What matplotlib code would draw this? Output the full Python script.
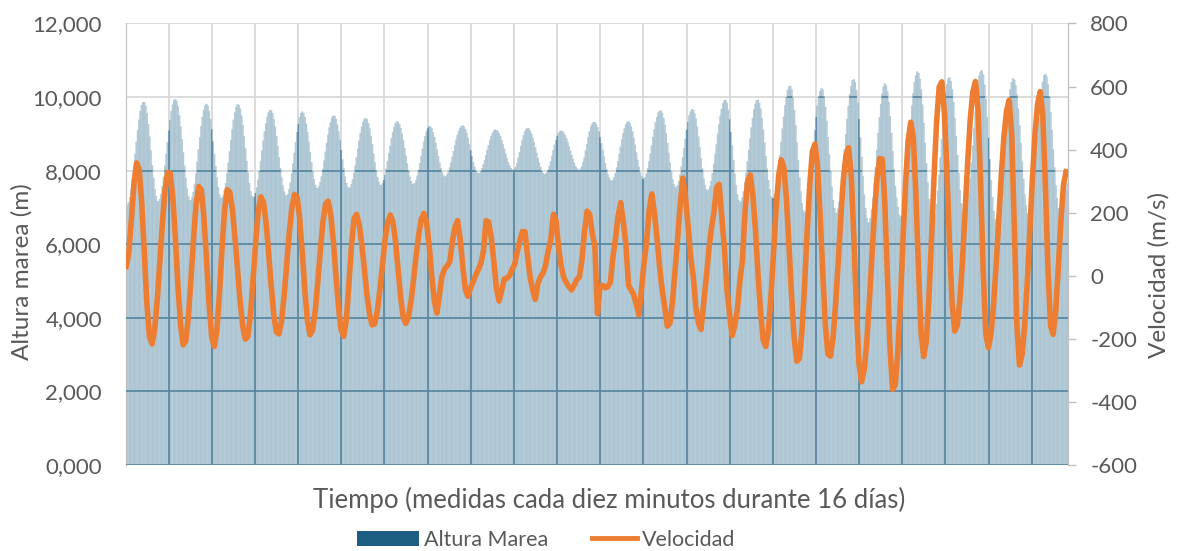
"""Altura de marea (barras) y velocidad de corriente (línea) durante 16 días."""

import matplotlib

matplotlib.use("Agg")
import matplotlib.pyplot as plt
import numpy as np
from matplotlib.legend_handler import HandlerLine2D
from matplotlib.lines import Line2D
from matplotlib.patches import Patch
from matplotlib.path import Path
from matplotlib.ticker import FuncFormatter, MultipleLocator

# --- altura de marea (m), una lectura cada media hora ---
tide_m = [
    7.08, 7.06, 7.13, 7.28, 7.51, 7.78, 8.10, 8.44, 8.78, 9.10, 9.38, 9.62, 9.78, 9.86, 9.86, 9.75, 9.55, 9.26, 8.92, 8.54, 8.15, 7.80, 7.50, 7.30,
    7.17, 7.15, 7.22, 7.36, 7.57, 7.83, 8.13, 8.45, 8.77, 9.09, 9.37, 9.62, 9.79, 9.91, 9.94, 9.88, 9.74, 9.50, 9.19, 8.85, 8.49, 8.13, 7.79, 7.51,
    7.30, 7.20, 7.19, 7.27, 7.42, 7.64, 7.92, 8.24, 8.57, 8.90, 9.21, 9.46, 9.65, 9.77, 9.81, 9.76, 9.62, 9.40, 9.12, 8.79, 8.45, 8.12, 7.81, 7.55,
    7.35, 7.26, 7.25, 7.32, 7.46, 7.66, 7.92, 8.21, 8.52, 8.83, 9.12, 9.38, 9.58, 9.73, 9.80, 9.78, 9.68, 9.49, 9.24, 8.93, 8.60, 8.26, 7.94, 7.66,
    7.44, 7.31, 7.26, 7.29, 7.39, 7.54, 7.75, 7.99, 8.26, 8.54, 8.81, 9.06, 9.28, 9.46, 9.58, 9.64, 9.63, 9.55, 9.40, 9.19, 8.94, 8.66, 8.36, 8.07,
    7.81, 7.59, 7.43, 7.33, 7.31, 7.36, 7.49, 7.68, 7.92, 8.19, 8.48, 8.77, 9.05, 9.27, 9.45, 9.56, 9.60, 9.56, 9.45, 9.27, 9.04, 8.78, 8.50, 8.23,
    7.98, 7.77, 7.61, 7.53, 7.52, 7.58, 7.69, 7.84, 8.04, 8.27, 8.51, 8.75, 8.97, 9.17, 9.32, 9.44, 9.49, 9.48, 9.40, 9.25, 9.06, 8.82, 8.56, 8.30,
    8.05, 7.83, 7.66, 7.56, 7.52, 7.54, 7.63, 7.76, 7.93, 8.13, 8.36, 8.59, 8.81, 9.02, 9.19, 9.32, 9.39, 9.42, 9.39, 9.29, 9.14, 8.94, 8.71, 8.46,
    8.22, 8.00, 7.82, 7.69, 7.61, 7.60, 7.65, 7.74, 7.88, 8.05, 8.25, 8.46, 8.67, 8.87, 9.04, 9.18, 9.28, 9.33, 9.32, 9.26, 9.15, 9.00, 8.82, 8.61,
    8.40, 8.19, 8.00, 7.83, 7.71, 7.64, 7.63, 7.66, 7.74, 7.86, 8.02, 8.20, 8.40, 8.59, 8.78, 8.93, 9.06, 9.15, 9.20, 9.19, 9.14, 9.04, 8.91, 8.75,
    8.57, 8.39, 8.21, 8.07, 7.95, 7.87, 7.83, 7.84, 7.89, 7.97, 8.08, 8.22, 8.37, 8.53, 8.68, 8.84, 8.97, 9.08, 9.16, 9.21, 9.22, 9.19, 9.12, 9.02,
    8.88, 8.72, 8.55, 8.39, 8.23, 8.10, 8.00, 7.94, 7.92, 7.93, 7.98, 8.06, 8.16, 8.28, 8.42, 8.56, 8.69, 8.82, 8.93, 9.02, 9.08, 9.11, 9.10, 9.07,
    9.01, 8.93, 8.82, 8.71, 8.59, 8.46, 8.34, 8.23, 8.14, 8.07, 8.02, 8.01, 8.03, 8.10, 8.20, 8.35, 8.50, 8.67, 8.82, 8.96, 9.06, 9.13, 9.15, 9.14,
    9.08, 9.00, 8.89, 8.77, 8.63, 8.48, 8.34, 8.21, 8.09, 7.99, 7.93, 7.90, 7.91, 7.95, 8.02, 8.12, 8.25, 8.40, 8.55, 8.70, 8.83, 8.94, 9.02, 9.07,
    9.08, 9.07, 9.02, 8.96, 8.87, 8.77, 8.65, 8.54, 8.42, 8.31, 8.21, 8.12, 8.06, 8.02, 8.01, 8.05, 8.11, 8.23, 8.37, 8.55, 8.72, 8.90, 9.06, 9.19,
    9.27, 9.32, 9.31, 9.27, 9.18, 9.06, 8.90, 8.74, 8.56, 8.38, 8.20, 8.04, 7.90, 7.80, 7.74, 7.71, 7.74, 7.81, 7.93, 8.08, 8.25, 8.45, 8.65, 8.84,
    9.01, 9.15, 9.25, 9.32, 9.33, 9.29, 9.20, 9.06, 8.89, 8.70, 8.49, 8.29, 8.10, 7.95, 7.84, 7.78, 7.77, 7.82, 7.92, 8.07, 8.25, 8.46, 8.68, 8.91,
    9.12, 9.31, 9.45, 9.57, 9.62, 9.63, 9.56, 9.43, 9.24, 9.01, 8.75, 8.48, 8.21, 7.97, 7.77, 7.63, 7.55, 7.54, 7.60, 7.72, 7.89, 8.11, 8.35, 8.61,
    8.86, 9.11, 9.32, 9.50, 9.61, 9.67, 9.65, 9.56, 9.41, 9.19, 8.92, 8.63, 8.33, 8.05, 7.79, 7.61, 7.49, 7.45, 7.48, 7.57, 7.72, 7.93, 8.17, 8.44,
    8.71, 9.00, 9.25, 9.49, 9.67, 9.83, 9.90, 9.92, 9.84, 9.65, 9.39, 9.05, 8.68, 8.29, 7.91, 7.60, 7.35, 7.20, 7.13, 7.16, 7.27, 7.44, 7.67, 7.94,
    8.25, 8.56, 8.87, 9.17, 9.43, 9.66, 9.81, 9.91, 9.92, 9.84, 9.68, 9.42, 9.11, 8.76, 8.39, 8.05, 7.74, 7.49, 7.30, 7.24, 7.26, 7.36, 7.54, 7.78,
    8.07, 8.42, 8.77, 9.14, 9.46, 9.77, 9.99, 10.19, 10.28, 10.30, 10.20, 9.97, 9.64, 9.23, 8.77, 8.28, 7.81, 7.43, 7.11, 6.92, 6.84, 6.88, 7.03, 7.25,
    7.55, 7.91, 8.30, 8.70, 9.09, 9.46, 9.76, 10.01, 10.16, 10.23, 10.19, 10.01, 9.73, 9.35, 8.91, 8.44, 7.98, 7.56, 7.20, 6.98, 6.85, 6.85, 6.96, 7.15,
    7.43, 7.78, 8.17, 8.58, 8.99, 9.40, 9.75, 10.07, 10.29, 10.45, 10.48, 10.40, 10.19, 9.84, 9.40, 8.90, 8.37, 7.84, 7.35, 6.98, 6.71, 6.59, 6.59, 6.71,
    6.94, 7.26, 7.65, 8.09, 8.56, 9.02, 9.45, 9.81, 10.09, 10.28, 10.36, 10.31, 10.15, 9.86, 9.48, 9.02, 8.53, 8.04, 7.58, 7.26, 7.01, 6.80, 6.70, 6.77,
    6.95, 7.22, 7.57, 7.97, 8.41, 8.88, 9.33, 9.76, 10.10, 10.40, 10.58, 10.69, 10.65, 10.49, 10.20, 9.79, 9.29, 8.75, 8.20, 7.68, 7.22, 6.89, 6.66, 6.59,
    6.64, 6.81, 7.09, 7.45, 7.88, 8.36, 8.85, 9.32, 9.74, 10.09, 10.34, 10.50, 10.53, 10.43, 10.21, 9.86, 9.42, 8.93, 8.42, 7.93, 7.47, 7.11, 6.84, 6.73,
    6.73, 6.85, 7.07, 7.39, 7.78, 8.22, 8.68, 9.16, 9.60, 10.01, 10.33, 10.58, 10.69, 10.72, 10.61, 10.33, 9.94, 9.45, 8.89, 8.31, 7.74, 7.28, 6.90, 6.68,
    6.58, 6.63, 6.79, 7.04, 7.38, 7.78, 8.23, 8.69, 9.13, 9.55, 9.91, 10.21, 10.40, 10.50, 10.47, 10.32, 10.06, 9.68, 9.23, 8.74, 8.24, 7.77, 7.35, 7.05,
    6.84, 6.78, 6.83, 7.00, 7.26, 7.60, 8.00, 8.46, 8.93, 9.39, 9.79, 10.15, 10.41, 10.58, 10.62, 10.55, 10.34, 10.01, 9.58, 9.10, 8.58, 8.08, 7.60, 7.25,
    6.98, 6.87, 6.87, 6.94, 7.10, 7.24, 7.45, 7.65,
]

# --- velocidad (m/s), una lectura por hora ---
velocidad = [
    30, 73, 178, 292, 358, 339, 231, 72, -88, -195, -216, -171,
    -75, 45, 169, 271, 328, 325, 249, 117, -33, -156, -219, -207,
    -131, -13, 117, 227, 283, 273, 188, 54, -88, -192, -224, -176,
    -59, 84, 208, 273, 265, 212, 123, 21, -81, -160, -201, -192,
    -123, -13, 105, 206, 250, 234, 170, 74, -32, -124, -178, -184,
    -143, -64, 37, 138, 217, 258, 250, 182, 73, -44, -143, -187,
    -172, -111, -21, 82, 172, 228, 237, 195, 110, 2, -100, -171,
    -192, -142, -29, 96, 182, 195, 162, 100, 20, -61, -123, -156,
    -152, -111, -43, 37, 116, 170, 193, 173, 110, 21, -68, -132,
    -151, -131, -81, -11, 65, 132, 181, 198, 170, 97, 1, -80,
    -118, -60, 0, 22, 32, 45, 110, 155, 175, 115, 30, -45,
    -65, -38, -19, 2, 20, 40, 80, 175, 170, 120, 45, -40,
    -80, -48, -10, -8, 0, 20, 35, 75, 110, 140, 140, 65,
    -5, -45, -75, -25, -3, 8, 35, 80, 115, 195, 175, 90,
    30, -5, -22, -35, -45, -30, -12, -5, 50, 140, 205, 195,
    135, 95, -120, -35, -30, -38, -35, -20, 60, 120, 190, 232,
    170, 100, -30, -45, -60, -90, -124, -45, 40, 110, 210, 260,
    200, 120, 30, -45, -100, -160, -150, -80, 20, 120, 230, 310,
    250, 160, 60, 0, -100, -150, -170, -90, -10, 80, 150, 200,
    280, 290, 190, 90, -40, -120, -190, -160, -110, -20, 50, 200,
    300, 320, 259, 149, 9, -115, -203, -224, -175, -68, 72, 212,
    319, 368, 343, 243, 94, -67, -200, -271, -262, -175, -30, 141,
    288, 394, 418, 349, 195, 14, -153, -248, -255, -197, -88, 44,
    184, 307, 382, 406, 323, 128, -98, -277, -336, -300, -214, -84,
    59, 200, 311, 372, 370, 229, -5, -232, -360, -346, -245, -85,
    109, 292, 429, 487, 439, 258, 20, -182, -256, -210, -76, 112,
    314, 489, 599, 615, 517, 326, 98, -89, -175, -156, -76, 49,
    204, 360, 497, 584, 616, 525, 290, 15, -184, -228, -184, -92,
    34, 179, 321, 442, 522, 557, 450, 154, -157, -283, -251, -159,
    -23, 142, 307, 450, 545, 584, 510, 289, 25, -158, -186, -112,
    27, 173, 288, 330,
]

left_ticks = [0, 2, 4, 6, 8, 10, 12]
right_ticks = [-600, -400, -200, 0, 200, 400, 600, 800]

TEXT = "#595959"
BAR = "#1b5e82"
BAR_FILL = "#b7cdd9"
BAR_EDGE = "#a0bccb"
ORANGE = "#ed7d31"
GRID = "#d9d9d9"
GRID_IN_BARS = "#5a88a2"
TIDE_STEP = 3  # medidas de 10 min entre lecturas de marea (30 min)
VEL_STEP = 6   # medidas de 10 min entre lecturas de velocidad (1 h)

plt.rcParams["font.family"] = ["Lato", "DejaVu Sans"]
plt.rcParams["axes.unicode_minus"] = False


class ShortLine(HandlerLine2D):
    """Legend line drawn shorter than the patch handle, right-aligned to its label."""

    def create_artists(self, legend, orig_handle, xdescent, ydescent, width, height,
                       fontsize, trans):
        cut = 0.27 * width
        return super().create_artists(legend, orig_handle, xdescent - cut, ydescent,
                                      width - cut, height, fontsize, trans)


tide_left = np.arange(len(tide_m)) * TIDE_STEP
tide_centers = tide_left + TIDE_STEP / 2
vel_x = np.arange(len(velocidad)) * VEL_STEP + TIDE_STEP / 2
x_end = len(tide_m) * TIDE_STEP

fig = plt.figure(figsize=(11.8, 5.51), dpi=100)
ax = fig.add_axes([0.1064, 0.156, 0.7987, 0.8014])

ax.set_xlim(0, x_end)
ax.set_ylim(left_ticks[0], left_ticks[-1])
ax.set_yticks(left_ticks)
ax.xaxis.set_major_locator(MultipleLocator(100))
ax.set_axisbelow(True)
ax.grid(True, color=GRID, lw=1.3)

# bars overlap a little so no seams show between neighbours
bars = ax.bar(tide_centers, tide_m, width=TIDE_STEP * 1.3, align="center",
              color=BAR_FILL, edgecolor=BAR_EDGE, linewidth=0.25, zorder=2)
for b in bars:
    b.set_snap(False)

# outline of the bars, used to darken the gridlines that sit under them
xs = np.repeat(np.append(tide_left, x_end), 2)
ys = np.concatenate([[0], np.repeat(tide_m, 2), [0]])
outline = Path(np.column_stack([xs, ys]))
xt = np.arange(100, x_end, 100)
inner = [
    ax.hlines(left_ticks, 0, x_end, colors=GRID_IN_BARS, lw=1.3, zorder=3),
    ax.vlines(xt, 0, left_ticks[-1], colors=GRID_IN_BARS, lw=1.3, zorder=3),
]
for coll in inner:
    coll.set_clip_path(outline, ax.transData)

ax.yaxis.set_major_formatter(FuncFormatter(lambda v, _: f"{v:.3f}".replace(".", ",")))
ax.tick_params(axis="x", length=0, labelbottom=False)
ax.tick_params(axis="y", length=0, pad=17, labelsize=16, labelcolor=TEXT)
for side in ("top", "bottom"):
    ax.spines[side].set_visible(False)
for side in ("left", "right"):
    ax.spines[side].set_color("#bfbfbf")

ax.set_ylabel("Altura marea (m)", fontsize=17.5, color=TEXT)
ax.yaxis.set_label_coords(-0.099, 0.437)

ax2 = ax.twinx()
ax2.plot(vel_x, velocidad, color=ORANGE, lw=4, solid_joinstyle="round", zorder=4)
ax2.set_ylim(right_ticks[0], right_ticks[-1])
ax2.set_yticks(right_ticks)
ax2.tick_params(axis="y", length=6, width=1, color="#bfbfbf", pad=10,
                labelsize=16, labelcolor=TEXT)
for side in ("top", "bottom", "left"):
    ax2.spines[side].set_visible(False)
ax2.spines["right"].set_color("#bfbfbf")
ax2.set_ylabel("Velocidad (m/s)", fontsize=17.5, color=TEXT)
ax2.yaxis.set_label_coords(1.085, 0.43)

fig.text(0.516, 0.092, "Tiempo (medidas cada diez minutos durante 16 días)",
         ha="center", va="center", fontsize=18.5, color=TEXT)

patch_handle = Patch(facecolor=BAR, edgecolor="none", label="Altura Marea")
line_handle = Line2D([], [], color=ORANGE, lw=3.5, label="Velocidad")
fig.legend(handles=[patch_handle, line_handle], loc="center",
           bbox_to_anchor=(0.463, 0.02), ncol=2, frameon=False, fontsize=15.5,
           labelcolor=TEXT, handlelength=2.85, handleheight=0.7, handletextpad=0.25,
           columnspacing=1.25, handler_map={line_handle: ShortLine()})

fig.savefig("out.png", dpi=100)
